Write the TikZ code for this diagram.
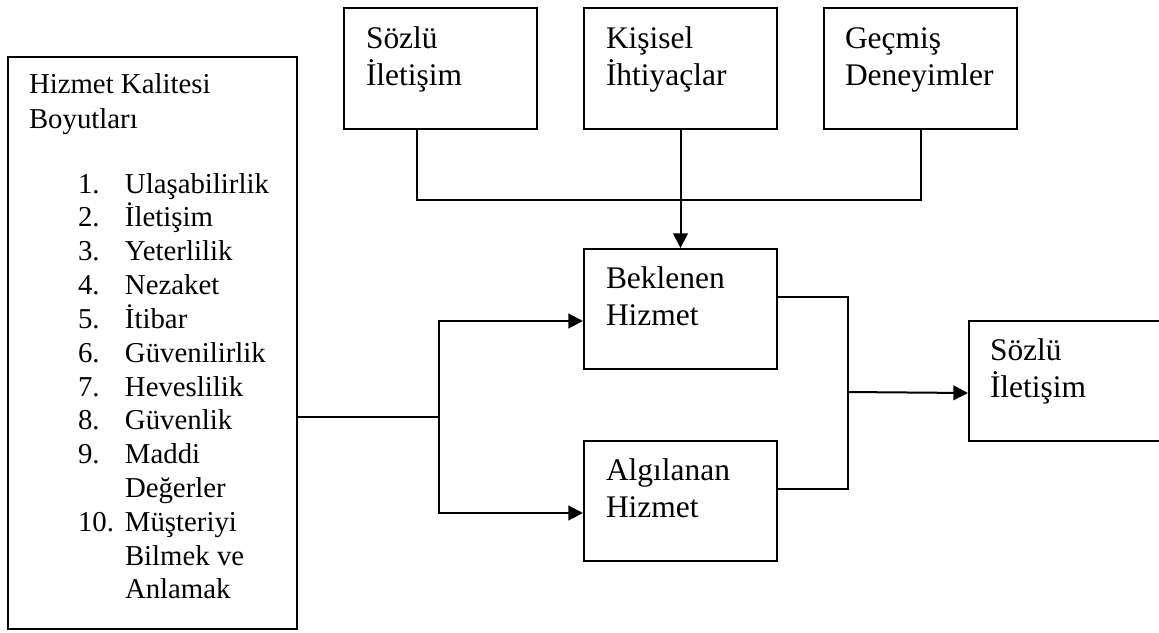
\documentclass[tikz,border=0pt]{standalone}
\usepackage{fontspec}
\setmainfont{Liberation Serif}
\usetikzlibrary{arrows.meta}
\usetikzlibrary{calc}

\begin{document}
\begin{tikzpicture}[x=0.75pt,y=-0.75pt,line width=1.5pt,
	kutu/.style={draw,inner sep=0pt,anchor=north west,minimum width=144.75pt,minimum height=90pt},
	yazi/.style={anchor=base west,inner sep=0pt,font=\fontsize{23.6}{28.3}\selectfont},
	liste/.style={anchor=base west,inner sep=0pt,font=\fontsize{21.6}{25.35}\selectfont},
	ok/.style={-{Triangle[length=11pt,width=11pt]}}]
	\clip (0,0) rectangle (1159,632);
	% kutular
	\node[kutu,minimum width=216.75pt,minimum height=429pt] (hkb) at (7,56) {};
	\node[kutu,minimum height=90.75pt] (sozlu) at (343,7) {};
	\node[kutu,minimum height=90.75pt] (kisisel) at (583,7) {};
	\node[kutu,minimum height=90.75pt] (gecmis) at (823,7) {};
	\node[kutu] (beklenen) at (583,248) {};
	\node[kutu] (algilanan) at (583,440) {};
	\node[kutu] (sozlu2) at (968,320) {};
	% yazilar
	\node[liste,font=\fontsize{21.6}{26.25}\selectfont] (hkbT) at ($(hkb.north west)+(21,37)$) {\begin{tabular}[t]{@{}l@{}}Hizmet Kalitesi\\Boyutları\end{tabular}};
	\node[liste] (hkbL) at (77,193) {\begin{tabular}[t]{@{}p{35.25pt}@{}l@{}}
		1. & Ulaşabilirlik\\
		2. & İletişim\\
		3. & Yeterlilik\\
		4. & Nezaket\\
		5. & İtibar\\
		6. & Güvenilirlik\\
		7. & Heveslilik\\
		8. & Güvenlik\\
		9. & Maddi\\
		   & Değerler\\
		10. & Müşteriyi\\
		    & Bilmek ve\\
		    & Anlamak
	\end{tabular}};
	\node[yazi] (sozluT) at ($(sozlu.north west)+(22,41)$) {\begin{tabular}[t]{@{}l@{}}Sözlü\\İletişim\end{tabular}};
	\node[yazi] (kisiselT) at ($(kisisel.north west)+(22,41)$) {\begin{tabular}[t]{@{}l@{}}Kişisel\\İhtiyaçlar\end{tabular}};
	\node[yazi] (gecmisT) at ($(gecmis.north west)+(21,41)$) {\begin{tabular}[t]{@{}l@{}}Geçmiş\\Deneyimler\end{tabular}};
	\node[yazi] (beklenenT) at ($(beklenen.north west)+(22,40)$) {\begin{tabular}[t]{@{}l@{}}Beklenen\\Hizmet\end{tabular}};
	\node[yazi] (algilananT) at ($(algilanan.north west)+(22,40)$) {\begin{tabular}[t]{@{}l@{}}Algılanan\\Hizmet\end{tabular}};
	\node[yazi] (sozlu2T) at ($(sozlu2.north west)+(21,40)$) {\begin{tabular}[t]{@{}l@{}}Sözlü\\İletişim\end{tabular}};
	% baglantilar
	\coordinate (sdrop) at ($(sozlu.south)+(-23.5,0)$);
	\coordinate (ustbirles) at (680,200);
	\coordinate (lsplit) at (439,417);
	\coordinate (rjoin) at (848,392);
	\coordinate (bin) at ($(beklenen.west)+(0,12)$);
	\coordinate (ain) at ($(algilanan.west)+(0,12)$);
	\coordinate (bout) at ($(beklenen.east)+(0,-12)$);
	\coordinate (aout) at ($(algilanan.east)+(0,-12)$);
	\coordinate (sin) at ($(sozlu2.west)+(0,12)$);
	\draw (sdrop) |- (ustbirles) -| (gecmis.south);
	\draw[ok] (kisisel.south) -- (beklenen.north);
	\draw (hkb.east |- lsplit) -- (lsplit);
	\draw[ok] (lsplit) |- (bin);
	\draw[ok] (lsplit) |- (ain);
	\draw (bout) -| (rjoin) |- (aout);
	\draw[ok] (rjoin) -- (sin);
\end{tikzpicture}
\end{document}
